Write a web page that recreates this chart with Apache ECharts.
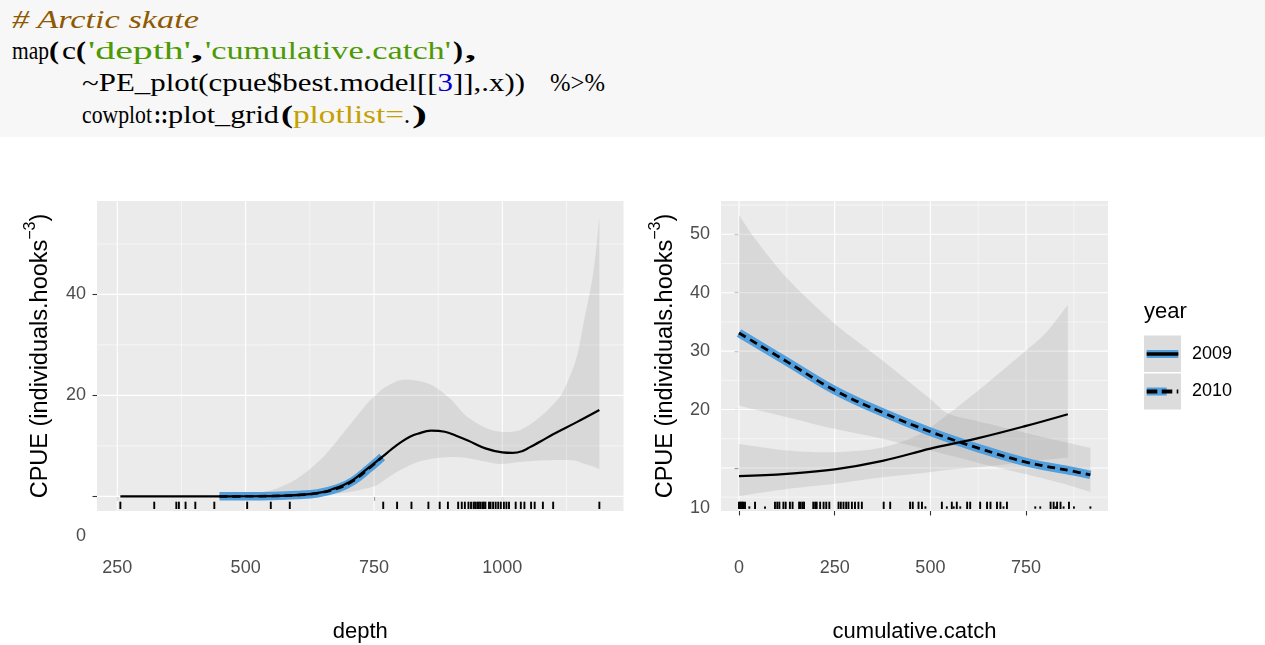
<!DOCTYPE html>
<html><head><meta charset="utf-8">
<script src="https://cdn.jsdelivr.net/npm/echarts@6/dist/echarts.min.js"></script>
<style>
html,body{margin:0;padding:0;background:#fff;width:1265px;height:645px;overflow:hidden;}
#chart{position:absolute;left:0;top:0;width:1265px;height:645px;}
#code{position:absolute;left:0;top:0;width:1265px;height:137px;background:#f7f7f7;font-family:'Liberation Serif',serif;font-size:25px;color:#000;}
.seg{position:absolute;white-space:pre;transform-origin:0 0;line-height:25px;}
.b{font-weight:bold;}
.cm{color:#8f5902;font-style:italic;}
.st{color:#4e9a06;}
.nm{color:#0000cf;}
.at{color:#c4a000;}
</style></head><body>
<div id="chart"></div>
<div id="code"></div>
<script>
// ---------------- data ----------------
// panel 1: depth
const depthTicks = [250, 500, 750, 1000];
const depthMinor = [375, 625, 875, 1125];
const cpueTicksL = [0, 20, 40];
const cpueMinorL = [10, 30, 50];
const depthFit09 = [256, 350, 450, 500, 538, 580, 624, 650, 670, 690, 710, 736, 766, 785, 802, 820, 835, 861, 888, 910, 934, 967, 1000, 1020, 1040, 1053, 1075, 1099, 1145, 1189];
const cpueFit09L = [0, 0, 0, 0.02, 0.05, 0.15, 0.46, 0.85, 1.45, 2.2, 3.3, 5.4, 7.8, 9.4, 10.7, 11.8, 12.4, 13.0, 12.8, 12.0, 11.0, 9.5, 8.7, 8.6, 9.0, 9.7, 10.9, 12.3, 14.7, 17.1];
const depthFit10 = [449, 500, 550, 600, 640, 680, 710, 740, 766];
const cpueFit10L = [0, 0.01, 0.06, 0.25, 0.6, 1.6, 3.1, 5.5, 7.8];
const depthRib09 = [256, 450, 500, 550, 600, 650, 700, 736, 755, 770, 801, 835, 865, 901, 931, 967, 995, 1034, 1073, 1112, 1126, 1145, 1158, 1177, 1189];
const upperRib09L = [0.1, 0.2, 0.5, 1.2, 3.5, 7.7, 13.8, 18.3, 20.2, 21.5, 23.0, 22.9, 21.9, 19.1, 15.8, 13.6, 12.8, 13.1, 15.7, 19.7, 22.4, 27.6, 34.2, 44.2, 55.3];
const lowerRib09L = [0, 0, 0, 0.02, 0.1, 0.3, 0.8, 1.6, 2.2, 3.2, 5.2, 6.8, 7.5, 7.8, 7.6, 6.9, 6.4, 6.8, 7.1, 7.2, 7.2, 7.0, 6.5, 5.9, 5.4];
const rugDepth = [256, 322, 365, 370, 383, 402, 439, 503, 549, 586, 768, 795, 823, 856, 878, 894, 914, 921, 927, 934, 939, 944, 947, 951, 954, 957, 961, 964, 967, 974, 977, 982, 987, 992, 997, 1003, 1008, 1013, 1026, 1036, 1043, 1056, 1063, 1079, 1099, 1189];

// panel 2: cumulative.catch
const catchTicks = [0, 250, 500, 750];
const catchMinor = [125, 375, 625, 875];
const cpueTicksR = [10, 20, 30, 40, 50];
const cpueMinorR = [5, 15, 25, 35, 45, 55];
const catchFit09 = [0, 125, 250, 375, 500, 625, 750, 859];
const cpueFit09R = [8.6, 9.0, 9.75, 11.2, 13.3, 15.1, 17.2, 19.2];
const catchFit10 = [0, 125, 250, 375, 500, 625, 750, 875, 918];
const cpueFit10R = [33.1, 28.2, 23.3, 19.5, 16.2, 13.4, 11.0, 9.4, 8.8];
const catchRib10 = [0, 40, 125, 250, 375, 500, 546, 624, 750, 859, 918];
const upperRib10R = [53.3, 49.4, 42.5, 34.7, 28.4, 21.8, 19.3, 18.0, 16.0, 14.3, 13.4];
const lowerRib10R = [20.7, 20.0, 18.7, 16.7, 15.0, 13.0, 12.2, 10.9, 8.9, 7.1, 5.9];
const catchRib09 = [0, 125, 250, 375, 474, 548, 624, 750, 800, 859];
const upperRib09R = [14.1, 13.0, 12.7, 13.5, 15.8, 19.3, 23.2, 30.1, 33.0, 37.9];
const lowerRib09R = [5.2, 6.4, 7.3, 8.4, 9.1, 9.7, 10.1, 11.0, 11.4, 11.8];
const rugCatch = [0, 2.6, 5.2, 8.7, 11.3, 15.7, 41.9, 94, 100, 105.5, 116, 122, 133, 140, 157, 161, 166, 170, 194, 199, 203, 212, 221, 228, 236, 260, 266, 273, 280, 286, 295, 303, 312, 321, 378, 395, 447, 454, 469, 478, 530, 556, 569, 596, 604, 630, 648, 657, 674, 683, 700, 814, 822, 831, 840, 862];
const rugCatchShort = [27, 68, 487, 543, 561, 578, 691, 774, 787, 827, 848, 875, 918];

const yearLabels = ['2009', '2010'];

// ---------------- code block (text) ----------------
const codeSegs = [
  // [line, x, width, text, class]
  [0, 12, 187, '# Arctic skate', 'cm'],
  [1, 12, 37, 'map', ''], [1, 49, 10, '(', 'b'], [1, 61.5, 14, 'c', ''], [1, 76, 10, '(', 'b'],
  [1, 88, 103, "'depth'", 'st'], [1, 191, 12, ',', 'b'], [1, 205, 246, "'cumulative.catch'", 'st'],
  [1, 453, 10, ')', 'b'], [1, 465, 11, ',', 'b'],
  [2, 82, 443, '~PE_plot(cpue$best.model[[<span class="nm">3</span>]],.x))', ''], [2, 550, 55, '%>%', ''],
  [3, 82, 70, 'cowplot', ''], [3, 154, 14, '::', 'b'], [3, 168, 111, 'plot_grid', ''], [3, 281, 12, '(', 'b'],
  [3, 293, 111, 'plotlist=', 'at'], [3, 404, 6, '.', ''], [3, 412, 15, ')', 'b']
];
const baselines = [27, 58, 90, 122];
const codeDiv = document.getElementById('code');
codeSegs.forEach(s => {
  const el = document.createElement('span');
  el.className = 'seg ' + s[4];
  if (s[3].indexOf('<span') >= 0) el.innerHTML = s[3]; else el.textContent = s[3];
  codeDiv.appendChild(el);
  const w = el.getBoundingClientRect().width;
  el.style.left = s[1] + 'px';
  el.style.top = (baselines[s[0]] - 20) + 'px';
  el.style.transform = 'scaleX(' + (s[2] / w) + ')';
});

// ---------------- chart ----------------
const zip = (a, b) => a.map((v, i) => [v, b[i]]);
const blue = '#529fdd';
const ribbonFill = 'rgba(150,150,150,0.22)';
const FONT = 'Liberation Sans';

function gridSeries(idx, values, vertical, width) {
  return {
    type: 'custom', xAxisIndex: idx, yAxisIndex: idx, silent: true, z: 1, animation: false,
    data: values.map(v => [v]),
    renderItem: (params, api) => {
      const cs = params.coordSys;
      if (vertical) {
        const x = api.coord([api.value(0), cpueTicksR[0]])[0];
        return { type: 'line', shape: { x1: x, y1: cs.y, x2: x, y2: cs.y + cs.height }, style: { stroke: '#ffffff', lineWidth: width } };
      }
      const y = api.coord([catchTicks[1], api.value(0)])[1];
      return { type: 'line', shape: { x1: cs.x, y1: y, x2: cs.x + cs.width, y2: y }, style: { stroke: '#ffffff', lineWidth: width } };
    }
  };
}
function ribbon(idx, xs, lo, up) {
  return {
    type: 'custom', xAxisIndex: idx, yAxisIndex: idx, silent: true, z: 2, animation: false,
    data: [[xs[0], lo[0]]],
    renderItem: (params, api) => {
      const top = xs.map((x, i) => api.coord([x, up[i]]));
      const bot = xs.map((x, i) => api.coord([x, lo[i]])).reverse();
      const pts = [top[0], ...top, top[top.length - 1], bot[0], ...bot, bot[bot.length - 1]];
      return { type: 'polygon', shape: { points: pts, smooth: 0.3 }, style: { fill: ribbonFill } };
    }
  };
}
function fitLine(idx, xs, ys, color, width, type, z) {
  return { type: 'line', xAxisIndex: idx, yAxisIndex: idx, data: zip(xs, ys), symbol: 'none', smooth: 0.4,
    lineStyle: { color: color, width: width, type: type, cap: 'butt' }, silent: true, z: z, animation: false };
}
function rug(idx, values, h0, h1, yRef) {
  return {
    type: 'custom', xAxisIndex: idx, yAxisIndex: idx, silent: true, z: 5, animation: false,
    data: values.map(v => [v]),
    renderItem: (params, api) => {
      const cs = params.coordSys;
      const x = api.coord([api.value(0), yRef])[0];
      const yb = cs.y + cs.height;
      return { type: 'line', shape: { x1: x, y1: yb - h0, x2: x, y2: yb - h1 }, style: { stroke: '#000', lineWidth: 1.9 } };
    }
  };
}

const axisLabelStyle = { color: '#4d4d4d', fontSize: 18, fontFamily: FONT, formatter: v => String(v) };
const tickStyle = { show: true, length: 4.5, lineStyle: { color: '#333333', width: 1.1 } };
const yName = '{a|CPUE (individuals.hooks}{s|−3}{a|)}';
const yNameStyle = { color: '#000', fontFamily: FONT, rich: {
  a: { fontSize: 23.5, fontFamily: FONT, color: '#000', lineHeight: 30, verticalAlign: 'bottom' },
  s: { fontSize: 16, fontFamily: FONT, color: '#000', lineHeight: 30, verticalAlign: 'top' } } };

const chart = echarts.init(document.getElementById('chart'), null, { renderer: 'canvas' });
const option = {
  animation: false,
  backgroundColor: 'transparent',
  grid: [
    { left: 97, top: 201, width: 526.5, height: 310, show: true, backgroundColor: '#ebebeb', borderWidth: 0 },
    { left: 721, top: 201, width: 387, height: 310, show: true, backgroundColor: '#ebebeb', borderWidth: 0 }
  ],
  xAxis: [
    { type: 'value', gridIndex: 0, min: 210.5, max: 1236, splitLine: { show: false }, axisLine: { show: false },
      axisTick: Object.assign({ customValues: depthTicks }, tickStyle),
      axisLabel: Object.assign({ customValues: depthTicks, margin: 48 }, axisLabelStyle),
      name: 'depth', nameLocation: 'middle', nameGap: 110, nameTextStyle: { fontSize: 22, color: '#000', fontFamily: FONT } },
    { type: 'value', gridIndex: 1, min: -47, max: 964, splitLine: { show: false }, axisLine: { show: false },
      axisTick: Object.assign({ customValues: catchTicks }, tickStyle),
      axisLabel: Object.assign({ customValues: catchTicks, margin: 48 }, axisLabelStyle),
      name: 'cumulative.catch', nameLocation: 'middle', nameGap: 110, nameTextStyle: { fontSize: 22, color: '#000', fontFamily: FONT } }
  ],
  yAxis: [
    { type: 'value', gridIndex: 0, min: -2.9, max: 58.5, splitLine: { show: false }, axisLine: { show: false },
      axisTick: Object.assign({ customValues: cpueTicksL }, tickStyle),
      axisLabel: Object.assign({ customValues: cpueTicksL.slice(1), margin: 11 }, axisLabelStyle),
      name: yName, nameLocation: 'middle', nameRotate: 90, nameGap: 44, nameTextStyle: yNameStyle },
    { type: 'value', gridIndex: 1, min: 2.63, max: 55.7, splitLine: { show: false }, axisLine: { show: false },
      axisTick: Object.assign({ customValues: cpueTicksR }, tickStyle),
      axisLabel: Object.assign({ customValues: cpueTicksR.slice(1), margin: 11 }, axisLabelStyle),
      name: yName, nameLocation: 'middle', nameRotate: 90, nameGap: 43, nameTextStyle: yNameStyle }
  ],
  series: [
    gridSeries(0, depthMinor, true, 0.55), gridSeries(0, cpueMinorL, false, 0.55),
    gridSeries(0, depthTicks, true, 1.1), gridSeries(0, cpueTicksL, false, 1.1),
    gridSeries(1, catchMinor, true, 0.55), gridSeries(1, cpueMinorR, false, 0.55),
    gridSeries(1, catchTicks, true, 1.1), gridSeries(1, cpueTicksR, false, 1.1),
    ribbon(0, depthRib09, lowerRib09L, upperRib09L),
    ribbon(1, catchRib10, lowerRib10R, upperRib10R),
    ribbon(1, catchRib09, lowerRib09R, upperRib09R),
    fitLine(0, depthFit10, cpueFit10L, blue, 8.5, 'solid', 3),
    fitLine(0, depthFit10, cpueFit10L, '#000', 2.6, [8, 5], 4),
    fitLine(0, depthFit09, cpueFit09L, '#000', 2.2, 'solid', 4),
    fitLine(1, catchFit10, cpueFit10R, blue, 8.5, 'solid', 3),
    fitLine(1, catchFit10, cpueFit10R, '#000', 2.8, [8, 5], 4),
    fitLine(1, catchFit09, cpueFit09R, '#000', 2.2, 'solid', 4),
    rug(0, rugDepth, 2, 9.3, cpueTicksL[0]),
    rug(1, rugCatch, 2, 9.3, cpueTicksR[0]),
    rug(1, rugCatchShort, 2.3, 4.6, cpueTicksR[0])
  ]
};
chart.setOption(option);

// displaced lowest y labels and legend
const p0 = chart.convertToPixel({ gridIndex: 0 }, [depthTicks[0], cpueTicksL[0]]);
const p1 = chart.convertToPixel({ gridIndex: 1 }, [catchTicks[0], cpueTicksR[0]]);
const lblStyle = { fill: '#4d4d4d', font: '18px "Liberation Sans"', textAlign: 'right', textVerticalAlign: 'middle' };
chart.setOption({
  graphic: [
    { type: 'text', x: 86, y: p0[1] + 40, style: Object.assign({ text: String(cpueTicksL[0]) }, lblStyle), silent: true },
    { type: 'text', x: 710, y: p1[1] + 40, style: Object.assign({ text: String(cpueTicksR[0]) }, lblStyle), silent: true },
    { type: 'text', x: 1144, y: 312, style: { text: 'year', fill: '#000', font: '22px "Liberation Sans"', textAlign: 'left', textVerticalAlign: 'middle' }, silent: true },
    { type: 'rect', shape: { x: 1144, y: 335.5, width: 37, height: 36.5 }, style: { fill: '#dcdcdc' }, silent: true },
    { type: 'rect', shape: { x: 1144, y: 373.5, width: 37, height: 36 }, style: { fill: '#dcdcdc' }, silent: true },
    { type: 'line', shape: { x1: 1146.7, y1: 354, x2: 1178.3, y2: 354 }, style: { stroke: blue, lineWidth: 8 }, silent: true },
    { type: 'line', shape: { x1: 1146.7, y1: 354, x2: 1178.3, y2: 354 }, style: { stroke: '#000', lineWidth: 3.6 }, silent: true },
    { type: 'line', shape: { x1: 1146.7, y1: 391.5, x2: 1166.7, y2: 391.5 }, style: { stroke: blue, lineWidth: 8 }, silent: true },
    { type: 'line', shape: { x1: 1146.7, y1: 391.5, x2: 1178.3, y2: 391.5 }, style: { stroke: '#000', lineWidth: 4, lineDash: [10.6, 4.4] }, silent: true },
    { type: 'text', x: 1192, y: 354, style: { text: yearLabels[0], fill: '#000', font: '18px "Liberation Sans"', textAlign: 'left', textVerticalAlign: 'middle' }, silent: true },
    { type: 'text', x: 1192, y: 391.5, style: { text: yearLabels[1], fill: '#000', font: '18px "Liberation Sans"', textAlign: 'left', textVerticalAlign: 'middle' }, silent: true }
  ]
});
</script>
</body></html>
